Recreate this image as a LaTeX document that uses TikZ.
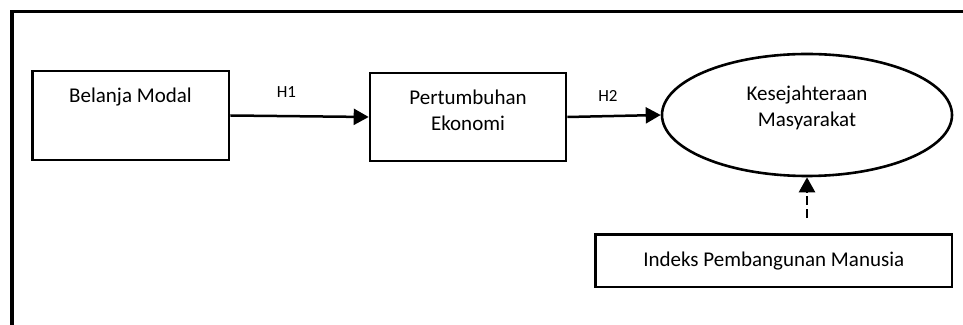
\documentclass[tikz,border=0pt]{standalone}
\usepackage{fontspec}
\setmainfont{Carlito}
\usetikzlibrary{arrows.meta,shapes.geometric}

\tikzset{
  box/.style={draw,line width=1.3pt,inner sep=0pt},
  oval/.style={draw,ellipse,line width=1.3pt,inner sep=0pt},
  txt/.style={font=\fontsize{10.5}{13}\selectfont,align=center,inner sep=0pt},
  hyp/.style={font=\fontsize{8.5}{10}\selectfont,inner sep=0pt},
  link/.style={line width=1.25pt,-{Triangle[length=7.5pt,width=8pt]}}
}

\begin{document}
\begin{tikzpicture}[x=0.5pt,y=-0.5pt]
\useasboundingbox (0,0) rectangle (963,325);
\draw[line width=1.9pt] (12,325) -- (12,11.5) -- (963,11.5);

\node[box,minimum width=98.25pt,minimum height=44.5pt] (bm) at (130.75,115.5) {};
\node[box,minimum width=98pt,minimum height=44pt] (pe) at (468,117) {};
\node[oval,minimum width=145pt,minimum height=61pt] (ks) at (807,115) {};
\node[box,minimum width=178.25pt,minimum height=26.25pt,txt] (ipm) at (773.75,260.75) {Indeks Pembangunan Manusia};

\node[txt] (bmt) at (130.5,97.5) {Belanja Modal};
\node[txt] (pet) at (468,110.5) {Pertumbuhan\\Ekonomi};
\node[txt] (kst) at (807,108) {Kesejahteraan\\Masyarakat};

\draw[link] (bm.east) -- (pe.west);
\draw[link] (pe.east) -- (ks.west);
\draw[link,dash pattern=on 4.5pt off 2pt,shorten <=7.5pt] (ks.south |- ipm.north) -- (ks.south);

\node[hyp] (h1) at (286.5,92.5) {H1};
\node[hyp] (h2) at (608,96) {H2};

\end{tikzpicture}
\end{document}
